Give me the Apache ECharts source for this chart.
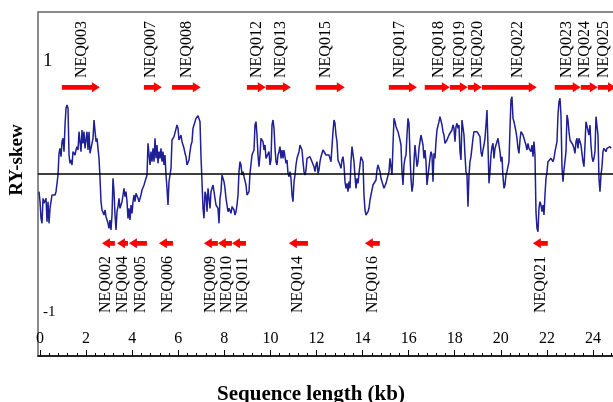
<!doctype html>
<html>
<head>
<meta charset="UTF-8">
<title>RY-skew</title>
<script src="https://cdn.jsdelivr.net/npm/echarts@6/dist/echarts.min.js"></script>
<style>
  html, body { margin: 0; padding: 0; background: #fff; }
  #chart { width: 613px; height: 402px; }
</style>
</head>
<body>
<div id="chart"></div>
<script>
// RY-skew profile, one window per ~43 bp
const firstWindowKb = -0.043;
const windowStepKb = 0.0434;
const skew = [
  -0.106,-0.166,-0.266,-0.296,-0.146,-0.176,-0.186,-0.146,-0.286,-0.166,-0.296,-0.206,-0.166,-0.126,-0.116,-0.116,-0.126,-0.106,-0.106,-0.006,
  0.124,0.154,0.104,0.194,0.214,0.134,0.294,0.394,0.414,0.394,0.114,0.064,0.084,0.054,0.134,0.124,0.114,0.144,0.164,0.144,
  0.254,0.264,0.134,0.264,0.184,0.254,0.154,0.204,0.254,0.144,0.254,0.124,0.118,0.184,0.214,0.324,0.324,0.194,0.214,0.224,
  0.094,-0.026,-0.166,-0.216,-0.206,-0.246,-0.216,-0.256,-0.276,-0.296,-0.326,-0.276,-0.336,-0.246,-0.026,-0.106,-0.246,-0.336,-0.226,-0.196,
  -0.146,-0.206,-0.186,-0.166,-0.126,-0.086,-0.136,-0.106,-0.166,-0.266,-0.206,-0.276,-0.186,-0.236,-0.166,
  // 4-8 kb
  -0.126,-0.166,-0.116,-0.126,-0.146,-0.166,-0.176,-0.126,-0.096,-0.086,-0.066,-0.076,-0.026,-0.006,0.184,0.174,0.054,0.134,0.074,0.154,
  0.074,0.214,0.094,0.174,0.064,0.134,0.094,0.154,0.074,0.134,0.054,0.114,-0.006,-0.086,-0.186,-0.046,-0.006,0.034,0.204,0.214,
  0.224,0.214,0.224,0.294,0.274,0.204,0.214,0.234,0.194,0.174,0.154,0.124,0.104,0.054,0.044,0.084,0.134,0.174,0.194,0.274,
  0.294,0.314,0.334,0.344,0.35,0.344,0.314,0.104,-0.046,-0.206,-0.266,-0.106,-0.126,-0.226,-0.086,-0.146,-0.206,-0.106,-0.086,-0.066,
  -0.106,-0.146,-0.186,-0.196,-0.206,-0.296,-0.146,-0.106,-0.006,-0.006,-0.046,-0.086,-0.146,-0.186,-0.226,-0.206,-0.216,-0.236,
  // 8-12.5 kb
  -0.196,-0.206,-0.216,-0.246,-0.226,-0.186,-0.126,0.014,0.074,0.054,-0.006,0.014,-0.016,-0.006,-0.066,-0.126,-0.136,-0.106,0.004,0.014,
  0.114,0.124,0.144,0.294,0.314,0.234,0.114,0.044,0.114,0.214,0.204,0.194,0.144,0.174,0.094,0.104,0.084,0.134,0.054,0.084,
  0.294,0.324,0.274,0.154,0.074,0.054,0.114,0.134,0.164,0.094,0.144,0.094,0.144,0.134,0.064,0.084,0.004,-0.016,0.014,-0.026,
  -0.126,-0.166,-0.046,-0.006,0.054,0.094,0.114,0.134,0.174,0.184,0.144,0.074,0.014,-0.006,0.024,0.094,0.104,0.094,0.104,0.094,
  0.074,0.084,0.044,0.014,0.054,0.074,0.004,0.024,0.074,0.104,0.124,0.144,0.154,0.134,0.114,0.124,0.104,0.114,
  // 12.5-16.8 kb
  0.124,0.074,0.084,0.254,0.324,0.304,0.234,0.194,0.084,0.094,0.054,0.034,0.084,0.104,0.054,-0.046,-0.086,-0.056,-0.106,-0.046,
  -0.086,0.074,0.164,0.154,0.074,-0.016,-0.086,-0.026,-0.056,0.004,0.014,0.104,0.114,0.074,-0.126,-0.216,-0.246,-0.236,-0.226,-0.206,
  -0.156,-0.126,-0.096,-0.066,-0.076,-0.056,-0.036,0.024,0.054,0.044,0.014,-0.026,-0.026,-0.066,-0.086,-0.076,-0.056,-0.046,-0.046,0.014,
  0.094,0.104,-0.006,0.174,0.334,0.314,0.284,0.274,0.254,0.244,0.204,0.174,0.014,-0.066,0.054,0.094,0.114,0.234,0.334,0.304,
  0.114,-0.026,-0.106,-0.066,0.074,0.174,0.184,0.044,0.074,0.154,0.194,0.234,0.244,0.174,0.094,0.144,0.074,-0.066,
  // 16.8-21 kb
  -0.066,-0.056,0.094,0.134,0.114,-0.046,0.124,0.094,0.194,0.264,0.254,0.314,0.344,0.354,0.294,0.254,0.234,0.184,0.194,0.204,
  0.214,0.234,0.244,0.224,0.264,0.294,0.274,0.194,0.284,0.304,0.274,0.294,0.134,0.084,0.324,0.334,0.234,0.114,0.014,-0.006,
  -0.196,-0.006,0.074,0.104,0.094,0.214,0.254,0.264,0.254,0.254,0.264,0.244,0.224,0.134,0.104,0.144,0.174,0.214,0.294,0.384,
  0.174,-0.056,0.014,0.114,0.164,0.184,0.094,0.154,0.174,0.194,0.214,0.224,0.134,0.074,0.104,-0.016,-0.086,-0.066,-0.006,0.014,
  0.024,0.074,0.274,0.444,0.464,0.334,0.314,0.284,0.254,0.214,0.154,0.124,0.204,0.254,0.244,0.234,0.214,0.194,
  // 21-25 kb
  0.174,0.144,0.184,0.154,0.164,0.134,0.174,0.104,0.194,0.114,-0.226,-0.326,-0.346,-0.206,-0.166,-0.186,-0.226,-0.186,-0.246,-0.126,
  -0.026,0.014,0.074,0.084,0.064,0.094,0.104,0.074,0.094,0.134,0.144,0.194,0.354,0.434,0.454,0.354,0.044,-0.046,0.024,0.014,
  0.134,0.354,0.324,0.254,0.204,0.194,0.194,0.174,0.154,0.124,0.194,0.214,0.154,0.214,0.224,0.174,0.124,0.074,0.044,0.174,
  0.314,0.304,0.324,0.234,0.294,0.174,0.104,0.074,0.094,0.134,0.344,0.354,0.234,-0.026,-0.106,-0.006,0.044,0.134,0.154,0.144,
  0.134,0.154,0.154,0.144,0.164,0.154
];

const majorTicks = [0, 2, 4, 6, 8, 10, 12, 14, 16, 18, 20, 22, 24];
const skewTicks = [-1, 1];

// genes on the forward strand (kb)
const forwardGenes = ['NEQ003', 'NEQ007', 'NEQ008', 'NEQ012', 'NEQ013', 'NEQ015', 'NEQ017', 'NEQ018', 'NEQ019', 'NEQ020', 'NEQ022', 'NEQ023', 'NEQ024', 'NEQ025'];
const forwardStart = [0.95, 4.51, 5.73, 8.98, 9.80, 11.97, 15.14, 16.70, 17.79, 18.57, 19.18, 22.34, 23.47, 24.21];
const forwardEnd = [2.60, 5.29, 6.98, 9.80, 10.89, 13.23, 16.36, 17.79, 18.57, 19.18, 21.56, 23.47, 24.21, 25.0];
const forwardLabelAt = [1.82, 4.82, 6.38, 9.41, 10.46, 12.41, 15.62, 17.31, 18.22, 19.02, 20.74, 22.88, 23.64, 24.45];

// genes on the reverse strand (kb)
const reverseGenes = ['NEQ002', 'NEQ004', 'NEQ005', 'NEQ006', 'NEQ009', 'NEQ010', 'NEQ011', 'NEQ014', 'NEQ016', 'NEQ021'];
const reverseStart = [2.69, 3.34, 3.86, 5.16, 7.11, 7.72, 8.33, 10.80, 14.10, 21.39];
const reverseEnd = [3.25, 3.82, 4.64, 5.77, 7.72, 8.33, 8.94, 11.63, 14.75, 22.04];
const reverseLabelAt = [2.86, 3.60, 4.38, 5.55, 7.42, 8.11, 8.81, 11.19, 14.45, 21.74];

const serif = '"Liberation Serif", "Times New Roman", serif';

const minorTicks = [];
for (let t = 0; t <= 25.001; t += 0.4) minorTicks.push(+t.toFixed(1));

function geneSeries(names, starts, ends, labelAt, arrowY, labelY, forward) {
  return {
    type: 'custom',
    xAxisIndex: 0,
    yAxisIndex: 0,
    silent: true,
    clip: false,
    data: starts.map((s, i) => [s, ends[i], labelAt[i]]),
    renderItem: function (params, api) {
      const a = api.coord([api.value(0), arrowY]);
      const b = api.coord([api.value(1), arrowY]);
      const t = api.coord([api.value(2), labelY]);
      const y = a[1];
      const tail = forward ? a[0] : b[0];
      const tip = forward ? b[0] : a[0];
      const dir = forward ? 1 : -1;
      const h = Math.min(8, Math.abs(tip - tail) * 0.75);
      const sh = 2.3, hw = 5;
      const neck = tip - dir * h;
      return {
        type: 'group',
        children: [
          {
            type: 'polygon',
            shape: { points: [[tail, y - sh], [neck, y - sh], [neck, y - hw], [tip, y], [neck, y + hw], [neck, y + sh], [tail, y + sh]] },
            style: { fill: '#ff0000' }
          },
          {
            type: 'text',
            x: t[0],
            y: t[1],
            rotation: Math.PI / 2,
            style: {
              text: names[params.dataIndex],
              fontSize: 16,
              fontFamily: serif,
              fill: '#000',
              align: 'left',
              verticalAlign: 'middle'
            }
          }
        ]
      };
    }
  };
}

const chart = echarts.init(document.getElementById('chart'));
chart.setOption({
  animation: false,
  grid: {
    left: 38, right: -3, top: 12, bottom: 46,
    show: true, borderColor: '#666', borderWidth: 1.5,
    containLabel: false, outerBoundsMode: 'none'
  },
  xAxis: [{
    type: 'value',
    position: 'bottom',
    min: -0.087,
    max: 25,
    name: 'Sequence length (kb)',
    nameLocation: 'middle',
    nameGap: 28,
    nameTextStyle: { fontFamily: serif, fontSize: 21, fontWeight: 'bold', color: '#000', padding: [0, 32, 0, 0] },
    axisLine: { show: true, onZero: false, lineStyle: { color: '#000', width: 1.5 } },
    axisTick: { show: true, inside: true, length: 6, customValues: majorTicks, lineStyle: { color: '#000' } },
    axisLabel: { inside: true, margin: 9, customValues: majorTicks, fontFamily: serif, fontSize: 16, color: '#000' },
    splitLine: { show: false }
  }, {
    type: 'value',
    position: 'bottom',
    min: -0.087,
    max: 25,
    axisLine: { show: false, onZero: false },
    axisTick: { show: true, inside: true, length: 3, customValues: minorTicks, lineStyle: { color: '#000' } },
    axisLabel: { show: false },
    splitLine: { show: false }
  }],
  yAxis: [{
    type: 'value',
    position: 'left',
    min: -1.092,
    max: 0.972,
    axisLine: { show: false, onZero: false },
    axisTick: { show: false },
    axisLabel: { show: false },
    splitLine: { show: false }
  }, {
    type: 'value',
    position: 'left',
    min: -1.35,
    max: 1.386,
    name: 'RY-skew',
    nameLocation: 'middle',
    nameGap: 11,
    nameTextStyle: { fontFamily: serif, fontSize: 19, fontWeight: 'bold', color: '#000', padding: [0, 0, 0, 48] },
    axisLine: { show: false, onZero: false },
    axisTick: { show: false },
    axisLabel: {
      inside: true,
      margin: 5,
      customValues: skewTicks,
      color: '#000',
      formatter: v => (v > 0 ? '{big|' + v + '}' : '{small|' + v + '}'),
      rich: {
        big: { fontFamily: serif, fontSize: 19, color: '#000' },
        small: { fontFamily: serif, fontSize: 15, color: '#000' }
      }
    },
    splitLine: { show: false }
  }],
  series: [
    {
      type: 'line',
      xAxisIndex: 0,
      yAxisIndex: 0,
      data: skew.map((v, i) => [firstWindowKb + i * windowStepKb, v]),
      showSymbol: false,
      symbol: 'none',
      lineStyle: { color: '#1f1f96', width: 1.5 },
      markLine: {
        silent: true,
        symbol: 'none',
        label: { show: false },
        lineStyle: { color: '#000', width: 1.5, type: 'solid' },
        data: [{ yAxis: 0 }]
      },
      z: 3
    },
    geneSeries(forwardGenes, forwardStart, forwardEnd, forwardLabelAt, 0.52, 0.576, true),
    geneSeries(reverseGenes, reverseStart, reverseEnd, reverseLabelAt, -0.416, -0.834, false)
  ]
});
</script>
</body>
</html>
